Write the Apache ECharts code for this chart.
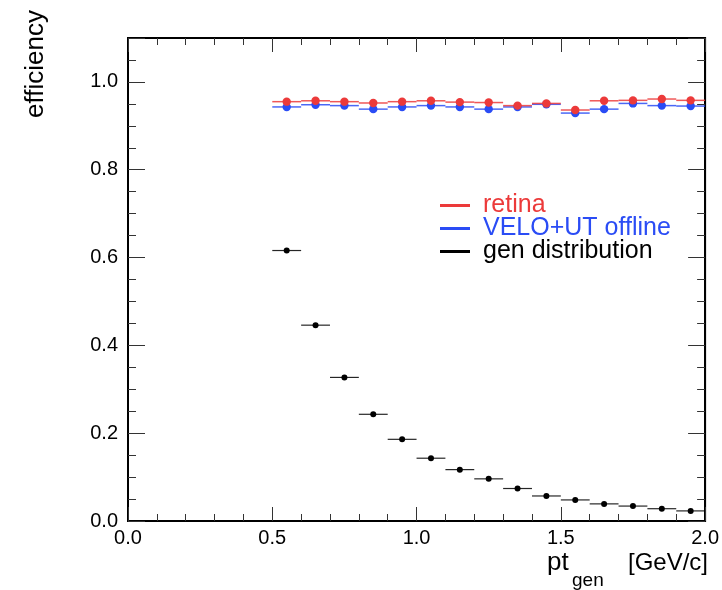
<!DOCTYPE html>
<html lang="en">
<head>
    <meta charset="UTF-8">
    <title>efficiency vs pt</title>
    <script type="text/javascript" src="https://cdn.jsdelivr.net/npm/echarts@6/dist/echarts.min.js"></script>
    <style>
        html, body { margin: 0; padding: 0; background: #fff; }
        #main { width: 722px; height: 590px; }
    </style>
</head>
<body>
<div id="main"></div>
<script type="text/javascript">
    // bin centres of pt_gen [GeV/c], bins are 0.1 wide
    const ptBins = [0.55, 0.65, 0.75, 0.85, 0.95, 1.05, 1.15, 1.25, 1.35, 1.45, 1.55, 1.65, 1.75, 1.85, 1.95];
    const binWidth = 0.1;
    const retina = [0.955, 0.957, 0.955, 0.952, 0.955, 0.957, 0.954, 0.953, 0.946, 0.951, 0.936, 0.957, 0.958, 0.961, 0.958];
    const veloUT = [0.943, 0.948, 0.946, 0.938, 0.943, 0.946, 0.943, 0.938, 0.943, 0.949, 0.929, 0.938, 0.951, 0.946, 0.945];
    const genDist = [0.616, 0.446, 0.327, 0.243, 0.186, 0.143, 0.117, 0.096, 0.074, 0.057, 0.048, 0.039, 0.034, 0.028, 0.023];
    const xTicks = [0.0, 0.5, 1.0, 1.5, 2.0];
    const yTicks = [0.0, 0.2, 0.4, 0.6, 0.8, 1.0];

    const FONT = 'Liberation Sans';
    const RED = '#ec3a3a', BLUE = '#2a4cf5', BLACK = '#000';

    function pairs(vals) {
        return ptBins.map((x, i) => [x, vals[i]]);
    }

    // horizontal bin-width bar plus marker, positioned with the axis scales
    function errBar(color, radius, lw) {
        return function (params, api) {
            const x = api.value(0), y = api.value(1);
            const a = api.coord([x - binWidth / 2, y]);
            const b = api.coord([x + binWidth / 2, y]);
            const c = api.coord([x, y]);
            return {
                type: 'group',
                children: [{
                    type: 'line',
                    shape: {x1: a[0], y1: a[1], x2: b[0], y2: b[1]},
                    style: {stroke: color, lineWidth: lw, opacity: 0.85}
                }, {
                    type: 'circle',
                    shape: {cx: c[0], cy: c[1], r: radius},
                    style: {fill: color}
                }]
            };
        };
    }

    const tickStyle = {color: '#333', width: 1};

    function xAx(pos, labels) {
        return {
            type: 'value', position: pos, min: 0, max: 2, interval: 0.5,
            axisLine: {show: true, onZero: false, lineStyle: {color: '#000', width: 2}},
            axisTick: {show: true, inside: true, length: 14, lineStyle: tickStyle},
            minorTick: {show: true, splitNumber: 5, length: 7, lineStyle: tickStyle},
            splitLine: {show: false},
            axisLabel: {
                show: labels, color: '#000', fontSize: 20, fontFamily: FONT, margin: 7,
                formatter: v => xTicks.some(t => Math.abs(t - v) < 1e-6) ? v.toFixed(1) : ''
            }
        };
    }

    function yAx(pos, interval, len, labels) {
        return {
            type: 'value', position: pos, min: 0, max: 1.1, interval: interval,
            axisLine: {show: len > 10, onZero: false, lineStyle: {color: '#000', width: 2}},
            axisTick: {show: true, inside: true, length: len, lineStyle: tickStyle},
            splitLine: {show: false},
            axisLabel: {
                show: labels, color: '#000', fontSize: 20, fontFamily: FONT, margin: 10,
                formatter: v => yTicks.some(t => Math.abs(t - v) < 1e-6) ? v.toFixed(1) : ''
            }
        };
    }

    const myChart = echarts.init(document.getElementById('main'));
    myChart.setOption({
        backgroundColor: '#fff',
        animation: false,
        grid: {left: 128, right: 14, top: 38, bottom: 69, show: true, borderColor: '#000', borderWidth: 2},
        xAxis: [xAx('bottom', true), xAx('top', false)],
        yAxis: [
            yAx('left', 0.2, 17, true),
            yAx('left', 0.05, 8, false),
            yAx('right', 0.2, 17, false),
            yAx('right', 0.05, 8, false)
        ],
        legend: {
            orient: 'vertical',
            left: 435,
            top: 188,
            icon: 'rect',
            itemWidth: 30,
            itemHeight: 3,
            itemGap: -2,
            textStyle: {fontFamily: FONT, fontSize: 25, lineHeight: 20, padding: [0, 0, 0, 8]},
            data: [
                {name: 'retina', textStyle: {color: RED}},
                {name: 'VELO+UT offline', textStyle: {color: BLUE}},
                {name: 'gen distribution', textStyle: {color: BLACK}}
            ]
        },
        series: [{
            name: 'VELO+UT offline',
            type: 'custom',
            itemStyle: {color: BLUE},
            renderItem: errBar(BLUE, 4.2, 1.5),
            data: pairs(veloUT)
        }, {
            name: 'retina',
            type: 'custom',
            itemStyle: {color: RED},
            renderItem: errBar(RED, 4.2, 1.5),
            data: pairs(retina)
        }, {
            name: 'gen distribution',
            type: 'custom',
            itemStyle: {color: BLACK},
            renderItem: errBar(BLACK, 3, 1.2),
            data: pairs(genDist)
        }],
        graphic: [{
            type: 'text',
            x: 36, y: 10,
            rotation: Math.PI / 2,
            style: {text: 'efficiency', fontFamily: FONT, fontSize: 26, fill: '#000',
                    align: 'right', verticalAlign: 'middle'}
        }, {
            type: 'text',
            x: 547, y: 563,
            style: {text: 'pt', fontFamily: FONT, fontSize: 26, fill: '#000',
                    align: 'left', verticalAlign: 'middle'}
        }, {
            type: 'text',
            x: 572, y: 581,
            style: {text: 'gen', fontFamily: FONT, fontSize: 19, fill: '#000',
                    align: 'left', verticalAlign: 'middle'}
        }, {
            type: 'text',
            x: 708, y: 563,
            style: {text: '[GeV/c]', fontFamily: FONT, fontSize: 24, fill: '#000',
                    align: 'right', verticalAlign: 'middle'}
        }]
    });
</script>
</body>
</html>
